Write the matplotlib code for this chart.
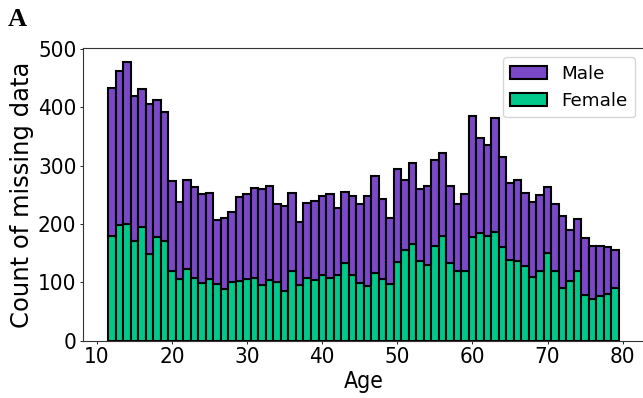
import matplotlib
matplotlib.use("Agg")
import matplotlib.pyplot as plt
import numpy as np

plt.rcParams["font.family"] = ["DejaVu Sans"]
plt.rcParams["font.stretch"] = "condensed"

# missing-data counts per year of age, split by sex
ages = list(range(12, 80))
female = [179, 199, 200, 171, 195, 148, 178, 171, 119, 105, 122, 108, 99, 105, 97, 88,
          101, 103, 105, 107, 96, 104, 100, 85, 119, 95, 108, 104, 112, 107, 112, 133,
          112, 99, 94, 116, 105, 97, 134, 155, 165, 137, 129, 162, 180, 133, 119, 119,
          178, 184, 180, 186, 160, 139, 137, 128, 109, 120, 151, 120, 90, 102, 119, 78,
          71, 77, 80, 90]
male = [254, 263, 277, 248, 236, 257, 235, 220, 154, 133, 154, 155, 152, 148, 110, 122,
        119, 143, 147, 154, 163, 161, 134, 146, 134, 108, 128, 135, 136, 144, 116, 122,
        136, 135, 154, 166, 137, 113, 160, 121, 139, 122, 136, 147, 142, 132, 115, 132,
        207, 163, 155, 195, 154, 131, 139, 125, 129, 130, 112, 114, 124, 87, 90, 98,
        92, 86, 80, 66]

purple = "#7b48c8"
green = "#00c98b"

fig = plt.figure(figsize=(6.43, 3.98), dpi=100)
ax = fig.add_axes([0.1286, 0.144, 0.8737, 0.7346])

b_f = ax.bar(ages, female, width=1.0, color=green, edgecolor="black", linewidth=1.5,
             label="Female")
b_m = ax.bar(ages, male, width=1.0, bottom=female, color=purple, edgecolor="black",
             linewidth=1.5, label="Male")

ax.set_xticks([10, 20, 30, 40, 50, 60, 70, 80])
ax.set_yticks([0, 100, 200, 300, 400, 500])
ax.tick_params(labelsize=16, length=2.5, width=0.6, pad=2)
ax.set_xlabel("Age", fontsize=16.5, labelpad=2)
ax.set_ylabel("Count of missing data", fontsize=17.5, labelpad=3,
              fontstretch="normal")
for s in ax.spines.values():
    s.set_linewidth(0.8)
    s.set_color("#333333")

ax.legend([b_m, b_f], ["Male", "Female"], loc="upper right",
          prop={"size": 13.2, "stretch": "normal"})

fig.text(0.012, 0.935, "A", fontsize=19, fontweight="bold", family="Liberation Serif",
         fontstretch="normal")

fig.savefig("out.png", dpi=100)
